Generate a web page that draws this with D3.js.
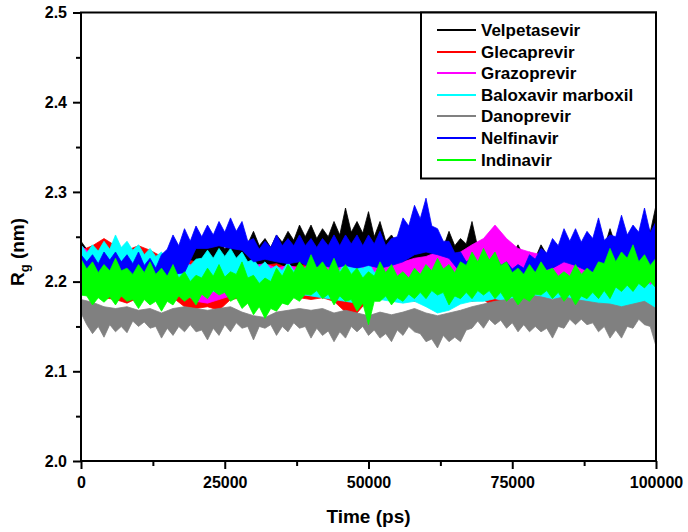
<!DOCTYPE html>
<html>
<head>
<meta charset="utf-8">
<script src="https://cdn.jsdelivr.net/npm/d3@7"></script>
<style>
    body { margin: 0; background: #fff; }
    text { font-family: "Liberation Sans", Arial, sans-serif; font-weight: bold; }
</style>
</head>
<body>
<div id="chart"></div>
<script>
// Series names and colours (legend order = drawing order)
const names = ["Velpetasevir", "Glecaprevir", "Grazoprevir", "Baloxavir marboxil", "Danoprevir", "Nelfinavir", "Indinavir"];
const colors = ["#000000", "#ff0000", "#ff00ff", "#00ffff", "#808080", "#0000ff", "#00ff00"];

// Sample times (ps): coarse edges every 2000 ps, visible edges every 1000 ps
const times2000 = d3.range(0, 100001, 2000);
const times1000 = d3.range(0, 100001, 1000);

// Upper / lower envelope of each Rg trace (nm)
const velpHi = [2.245,2.236,2.240,2.230,2.235,2.224,2.230,2.222,2.232,2.220,2.228,2.218,2.225,2.220,2.230,2.228,2.240,2.232,2.245,2.236,
    2.245,2.238,2.250,2.240,2.250,2.236,2.245,2.238,2.250,2.242,2.256,2.240,2.248,2.238,2.252,2.244,2.256,2.246,2.263,2.250,
    2.263,2.248,2.259,2.250,2.267,2.252,2.282,2.255,2.267,2.254,2.278,2.250,2.267,2.245,2.252,2.242,2.256,2.244,2.263,2.246,
    2.252,2.240,2.248,2.238,2.256,2.240,2.248,2.242,2.267,2.238,2.245,2.232,2.237,2.228,2.237,2.230,2.241,2.228,2.233,2.226,
    2.241,2.230,2.241,2.228,2.233,2.226,2.240,2.230,2.245,2.234,2.250,2.238,2.259,2.240,2.252,2.242,2.252,2.248,2.270,2.255,2.285];
const velpLo = [2.205,2.208,2.210,2.208,2.205,2.208,2.210,2.208,2.210,2.212,
    2.215,2.212,2.215,2.212,2.215,2.212,2.210,2.212,2.215,2.212,
    2.215,2.218,2.215,2.218,2.215,2.218,2.215,2.212,2.215,2.212,
    2.215,2.212,2.215,2.218,2.215,2.212,2.215,2.212,2.215,2.212,
    2.210,2.212,2.215,2.212,2.215,2.212,2.215,2.218,2.215,2.212,2.215];

const glecHi = [2.235,2.240,2.248,2.240,2.235,2.240,2.235,2.228,2.230,2.225,
    2.222,2.220,2.222,2.218,2.220,2.215,2.218,2.220,2.215,2.218,
    2.220,2.218,2.215,2.218,2.220,2.215,2.218,2.215,2.220,2.218,
    2.215,2.218,2.215,2.220,2.222,2.218,2.220,2.215,2.218,2.215,
    2.218,2.220,2.215,2.218,2.220,2.215,2.218,2.220,2.215,2.218,2.215];
const glecLo = [2.195,2.185,2.182,2.180,2.176,2.182,2.180,2.178,2.182,2.172,
    2.170,2.172,2.168,2.180,2.182,2.178,2.182,2.180,2.185,2.182,
    2.180,2.182,2.178,2.166,2.165,2.180,2.182,2.180,2.182,2.178,
    2.182,2.185,2.180,2.182,2.178,2.180,2.170,2.182,2.180,2.182,
    2.185,2.182,2.180,2.182,2.170,2.172,2.182,2.185,2.188,2.185,2.172];

const grazHi = [2.240,2.230,2.225,2.222,2.225,2.220,2.222,2.218,2.222,2.220,
    2.218,2.222,2.220,2.218,2.215,2.218,2.220,2.215,2.218,2.215,
    2.218,2.215,2.220,2.218,2.215,2.218,2.220,2.222,2.222,2.226,
    2.228,2.233,2.226,2.233,2.241,2.248,2.263,2.248,2.237,2.233,
    2.230,2.226,2.233,2.222,2.215,2.218,2.215,2.218,2.215,2.218,2.215];
const grazLo = [2.190,2.186,2.184,2.186,2.182,2.186,2.184,2.186,2.184,2.186,
    2.178,2.176,2.180,2.184,2.186,2.184,2.186,2.184,2.186,2.184,
    2.186,2.184,2.186,2.184,2.186,2.184,2.186,2.184,2.186,2.188,
    2.190,2.188,2.186,2.188,2.190,2.188,2.186,2.188,2.186,2.188,
    2.190,2.188,2.190,2.188,2.186,2.188,2.190,2.192,2.195,2.195,2.195];

const baloHi = [2.241,2.232,2.241,2.234,2.245,2.236,2.252,2.238,2.245,2.235,2.241,2.230,2.237,2.228,2.233,2.224,2.230,2.220,2.222,2.218,
    2.225,2.226,2.235,2.226,2.237,2.228,2.237,2.226,2.233,2.222,2.225,2.216,2.222,2.214,2.218,2.212,2.222,2.212,2.215,2.210,
    2.218,2.210,2.215,2.206,2.211,2.212,2.222,2.215,2.226,2.214,2.222,2.210,2.215,2.206,2.211,2.204,2.207,2.200,2.207,2.202,
    2.204,2.196,2.200,2.194,2.200,2.196,2.204,2.195,2.200,2.192,2.196,2.192,2.200,2.196,2.204,2.195,2.200,2.192,2.196,2.194,
    2.200,2.194,2.196,2.195,2.200,2.196,2.204,2.196,2.200,2.197,2.204,2.198,2.207,2.199,2.204,2.196,2.200,2.198,2.204,2.196,2.200];
const baloLo = [2.195,2.192,2.195,2.192,2.195,2.192,2.190,2.192,2.190,2.192,
    2.190,2.188,2.190,2.188,2.190,2.186,2.188,2.186,2.184,2.186,
    2.184,2.182,2.180,2.178,2.176,2.178,2.180,2.178,2.176,2.178,
    2.172,2.165,2.168,2.175,2.178,2.178,2.181,2.178,2.181,2.178,
    2.178,2.181,2.178,2.172,2.170,2.168,2.172,2.170,2.168,2.172,2.165];

const danoHi = [2.180,2.177,2.172,2.170,2.172,2.168,2.170,2.165,2.170,2.172,
    2.170,2.168,2.170,2.172,2.166,2.162,2.160,2.166,2.168,2.170,
    2.168,2.170,2.165,2.168,2.165,2.162,2.166,2.163,2.166,2.170,
    2.165,2.162,2.165,2.168,2.172,2.175,2.178,2.180,2.182,2.185,
    2.183,2.180,2.183,2.180,2.178,2.176,2.175,2.172,2.175,2.178,2.170];
const danoLo = [2.165,2.152,2.142,2.150,2.138,2.152,2.144,2.150,2.143,2.156,2.150,2.155,2.148,2.150,2.137,2.148,2.140,2.150,2.144,2.152,
    2.144,2.146,2.135,2.148,2.140,2.152,2.144,2.154,2.148,2.150,2.135,2.150,2.148,2.152,2.140,2.150,2.144,2.154,2.148,2.150,
    2.137,2.148,2.140,2.145,2.133,2.144,2.137,2.150,2.144,2.150,2.140,2.146,2.137,2.142,2.133,2.146,2.140,2.150,2.144,2.142,
    2.133,2.136,2.126,2.140,2.133,2.138,2.133,2.146,2.148,2.156,2.148,2.158,2.152,2.157,2.148,2.154,2.144,2.152,2.144,2.150,
    2.144,2.148,2.137,2.150,2.148,2.158,2.152,2.158,2.152,2.154,2.144,2.150,2.137,2.146,2.137,2.150,2.148,2.158,2.152,2.150,2.128];

const nelfHi = [2.230,2.222,2.230,2.220,2.233,2.224,2.233,2.222,2.230,2.220,2.233,2.218,2.226,2.215,2.230,2.236,2.252,2.240,2.259,2.245,
    2.262,2.250,2.263,2.252,2.267,2.255,2.271,2.256,2.267,2.245,2.248,2.236,2.245,2.238,2.252,2.240,2.248,2.240,2.252,2.240,
    2.248,2.238,2.248,2.240,2.252,2.240,2.252,2.242,2.252,2.240,2.252,2.242,2.256,2.240,2.248,2.250,2.271,2.262,2.285,2.270,
    2.293,2.262,2.259,2.245,2.245,2.232,2.233,2.222,2.226,2.220,2.233,2.222,2.230,2.218,2.222,2.214,2.219,2.215,2.230,2.225,
    2.237,2.232,2.248,2.240,2.259,2.245,2.259,2.244,2.256,2.248,2.271,2.246,2.252,2.250,2.274,2.252,2.263,2.255,2.282,2.254,2.267];
const nelfLo = [2.205,2.208,2.205,2.210,2.205,2.208,2.210,2.205,2.208,2.210,
    2.237,2.237,2.240,2.237,2.235,2.222,2.225,2.222,2.220,2.222,
    2.215,2.218,2.215,2.218,2.215,2.218,2.215,2.218,2.222,2.230,
    2.233,2.230,2.226,2.210,2.212,2.210,2.212,2.210,2.208,2.210,
    2.212,2.215,2.222,2.218,2.212,2.210,2.212,2.215,2.212,2.210,2.212];

const indiHi = [2.225,2.214,2.222,2.210,2.219,2.212,2.226,2.212,2.215,2.208,2.219,2.210,2.222,2.208,2.215,2.206,2.219,2.204,2.211,2.200,
    2.207,2.204,2.215,2.206,2.219,2.205,2.211,2.208,2.222,2.204,2.207,2.198,2.204,2.200,2.215,2.206,2.219,2.210,2.222,2.214,
    2.230,2.215,2.222,2.212,2.226,2.210,2.219,2.208,2.215,2.204,2.211,2.206,2.222,2.210,2.219,2.206,2.211,2.204,2.215,2.208,
    2.219,2.212,2.226,2.214,2.219,2.210,2.222,2.218,2.233,2.222,2.237,2.224,2.233,2.218,2.222,2.210,2.215,2.208,2.219,2.210,
    2.222,2.212,2.215,2.206,2.211,2.206,2.219,2.208,2.215,2.210,2.222,2.220,2.237,2.222,2.233,2.226,2.241,2.222,2.230,2.218,2.226];
const indiLo = [2.185,2.184,2.174,2.182,2.177,2.183,2.174,2.184,2.178,2.180,2.170,2.180,2.174,2.178,2.167,2.178,2.174,2.184,2.178,2.183,
    2.174,2.186,2.181,2.190,2.185,2.188,2.178,2.182,2.170,2.176,2.163,2.172,2.159,2.170,2.167,2.176,2.174,2.182,2.178,2.186,
    2.185,2.190,2.181,2.186,2.174,2.184,2.178,2.180,2.167,2.176,2.152,2.178,2.178,2.184,2.174,2.182,2.178,2.186,2.181,2.188,
    2.181,2.190,2.185,2.188,2.174,2.184,2.181,2.188,2.181,2.190,2.185,2.190,2.181,2.188,2.178,2.184,2.174,2.182,2.178,2.186,
    2.185,2.190,2.181,2.188,2.178,2.186,2.174,2.184,2.181,2.188,2.181,2.190,2.181,2.194,2.189,2.196,2.189,2.198,2.193,2.200,2.193];

// Axis ticks
const xMajor = [0, 25000, 50000, 75000, 100000];
const xMinor = [12500, 37500, 62500, 87500];
const yMajor = [2.0, 2.1, 2.2, 2.3, 2.4, 2.5];
const yMinor = [2.05, 2.15, 2.25, 2.35, 2.45];

const his = [velpHi, glecHi, grazHi, baloHi, danoHi, nelfHi, indiHi];
const los = [velpLo, glecLo, grazLo, baloLo, danoLo, nelfLo, indiLo];

// Set up dimensions
const width = 688;
const height = 532;
const plotLeft = 81, plotRight = 656, plotTop = 12.5, plotBottom = 461;

const svg = d3.select("#chart")
    .append("svg")
    .attr("width", width)
    .attr("height", height);

// Create scales
const x = d3.scaleLinear().domain([0, 100000]).range([plotLeft, plotRight]);
const y = d3.scaleLinear().domain([2.0, 2.5]).range([plotBottom, plotTop]);

svg.append("clipPath").attr("id", "plot-clip")
    .append("rect")
    .attr("x", plotLeft).attr("y", plotTop)
    .attr("width", plotRight - plotLeft).attr("height", plotBottom - plotTop);

// Pair each value with its time
function withTimes(values) {
    const ts = values.length === times1000.length ? times1000 : times2000;
    return values.map((v, i) => ({ t: ts[i], v: v }));
}

// Band outline: upper edge left to right, lower edge back again
const line = d3.line()
    .x(d => x(d.t))
    .y(d => y(d.v));

const bands = svg.append("g").attr("clip-path", "url(#plot-clip)");
names.forEach((name, k) => {
    const pts = withTimes(his[k]).concat(withTimes(los[k]).reverse());
    bands.append("path")
        .attr("d", line(pts) + "Z")
        .attr("fill", colors[k])
        .attr("stroke", colors[k])
        .attr("stroke-width", 0.8)
        .attr("stroke-linejoin", "bevel");
});

// Axes
function styleAxis(g) {
    g.select(".domain").remove();
    g.selectAll(".tick line").attr("stroke", "#000").attr("stroke-width", 2);
    g.selectAll(".tick text").attr("fill", "#000").style("font-size", "16px");
}

svg.append("g")
    .attr("transform", `translate(0,${plotBottom})`)
    .call(d3.axisBottom(x).tickValues(xMajor).tickSize(8).tickPadding(8).tickFormat(d3.format("d")))
    .call(styleAxis);
svg.append("g")
    .attr("transform", `translate(0,${plotBottom})`)
    .call(d3.axisBottom(x).tickValues(xMinor).tickSize(5).tickFormat(""))
    .call(styleAxis);
svg.append("g")
    .attr("transform", `translate(${plotLeft},0)`)
    .call(d3.axisLeft(y).tickValues(yMajor).tickSize(8).tickPadding(6).tickFormat(d3.format(".1f")))
    .call(styleAxis);
svg.append("g")
    .attr("transform", `translate(${plotLeft},0)`)
    .call(d3.axisLeft(y).tickValues(yMinor).tickSize(5).tickFormat(""))
    .call(styleAxis);

// Frame
svg.append("rect")
    .attr("x", plotLeft).attr("y", plotTop)
    .attr("width", plotRight - plotLeft).attr("height", plotBottom - plotTop)
    .attr("fill", "none")
    .attr("stroke", "#000")
    .attr("stroke-width", 2);

// Axis titles
svg.append("text")
    .attr("x", (plotLeft + plotRight) / 2)
    .attr("y", 523)
    .attr("text-anchor", "middle")
    .style("font-size", "19px")
    .text("Time (ps)");

const yTitle = svg.append("text")
    .attr("transform", "translate(24,252) rotate(-90)")
    .attr("text-anchor", "middle")
    .style("font-size", "19px");
yTitle.append("tspan").text("R");
yTitle.append("tspan").attr("dy", 5).style("font-size", "13px").text("g");
yTitle.append("tspan").attr("dy", -5).text(" (nm)");

// Legend
const legend = svg.append("g");
legend.append("rect")
    .attr("x", 421).attr("y", plotTop)
    .attr("width", plotRight - 421).attr("height", 166)
    .attr("fill", "#fff")
    .attr("stroke", "#000")
    .attr("stroke-width", 2);

names.forEach((name, k) => {
    const cy = Math.round(30 + k * 21.6);
    legend.append("line")
        .attr("x1", 437).attr("x2", 476)
        .attr("y1", cy).attr("y2", cy)
        .attr("stroke", colors[k])
        .attr("stroke-width", 2);
    legend.append("text")
        .attr("x", 481)
        .attr("y", cy + 6)
        .style("font-size", "17px")
        .text(name);
});
</script>
</body>
</html>
